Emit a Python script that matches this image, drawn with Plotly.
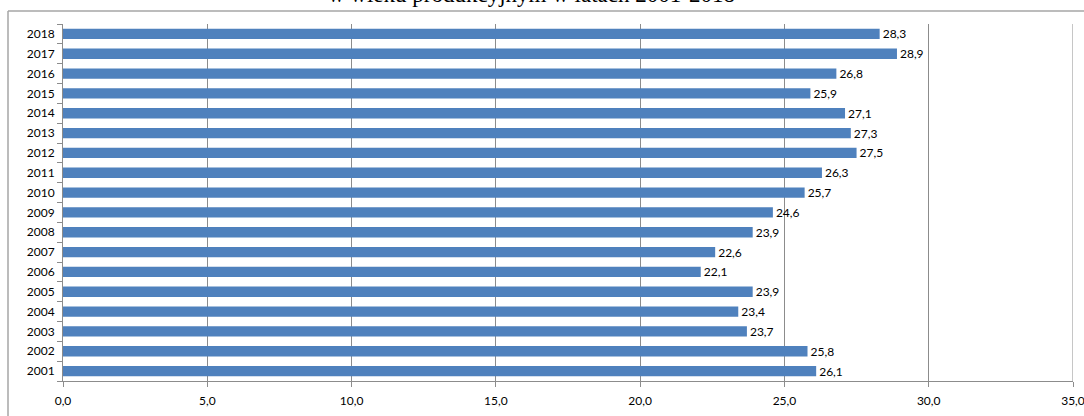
import plotly.graph_objects as go

# Data: years and values (per cent)
years = ["2001", "2002", "2003", "2004", "2005", "2006", "2007", "2008", "2009",
         "2010", "2011", "2012", "2013", "2014", "2015", "2016", "2017", "2018"]
values = [26.1, 25.8, 23.7, 23.4, 23.9, 22.1, 22.6, 23.9, 24.6,
          25.7, 26.3, 27.5, 27.3, 27.1, 25.9, 26.8, 28.9, 28.3]
x_ticks = [0, 5, 10, 15, 20, 25, 30, 35]
title_text = "w wieku produkcyjnym w latach 2001-2018"

W, H = 1084, 416
ML, MR, MT, MB = 63, 11, 24, 35
PW = W - ML - MR
PH = H - MT - MB

LABEL_FONT = dict(family="Lato, Carlito, 'Liberation Sans', sans-serif", size=12, color="#000000")
GRID = "#8c8c8c"

fig = go.Figure(
    go.Bar(
        y=years,
        x=values,
        orientation="h",
        marker=dict(color="#4F81BD", line=dict(width=0)),
        texttemplate="%{x:.1f}",
        textposition="outside",
        constraintext="none",
        textfont=LABEL_FONT,
        cliponaxis=False,
        hoverinfo="skip",
    )
)

def px_x(p):
    return (p - ML) / PW

def px_y(p):
    return (H - MB - p) / PH

fig.update_layout(
    width=W,
    height=H,
    margin=dict(l=ML, r=MR, t=MT, b=MB, pad=0, autoexpand=False),
    paper_bgcolor="#ffffff",
    plot_bgcolor="#ffffff",
    separators=", ",
    bargap=0.48,
    showlegend=False,
    font=LABEL_FONT,
    xaxis=dict(
        range=[0, 35],
        tickvals=x_ticks,
        tickformat=".1f",
        showgrid=True,
        gridcolor=GRID,
        gridwidth=1,
        showline=True,
        linecolor=GRID,
        linewidth=1,
        ticks="outside",
        ticklen=5,
        tickcolor=GRID,
        ticklabelstandoff=4,
        ticklabeloverflow="allow",
        automargin=False,
        zeroline=False,
        fixedrange=True,
    ),
    yaxis=dict(
        type="category",
        categoryorder="array",
        categoryarray=years,
        showgrid=False,
        showline=True,
        linecolor=GRID,
        linewidth=1,
        ticks="outside",
        tickson="boundaries",
        ticklen=5,
        tickcolor=GRID,
        ticklabelstandoff=5,
        automargin=False,
        zeroline=False,
        fixedrange=True,
    ),
    shapes=[
        # gridline at the right end of the value axis
        dict(type="line", xref="x", yref="paper",
             x0=35, x1=35, y0=0, y1=1,
             line=dict(color=GRID, width=1)),
        # outer chart frame (top and left edges)
        dict(type="line", xref="paper", yref="paper",
             x0=px_x(8), x1=px_x(W + 5), y0=px_y(11), y1=px_y(11),
             line=dict(color="#a6a6a6", width=1.5)),
        dict(type="line", xref="paper", yref="paper",
             x0=px_x(8), x1=px_x(8), y0=px_y(11), y1=px_y(H + 5),
             line=dict(color="#a6a6a6", width=1.5)),
    ],
    annotations=[
        dict(text=title_text, xref="paper", yref="paper",
             x=px_x(531), y=px_y(4), xanchor="center", yanchor="bottom",
             yshift=-5, showarrow=False,
             font=dict(family="'Liberation Serif', 'Times New Roman', serif", size=23, color="#000000")),
    ],
)

fig.write_html("out.html")
